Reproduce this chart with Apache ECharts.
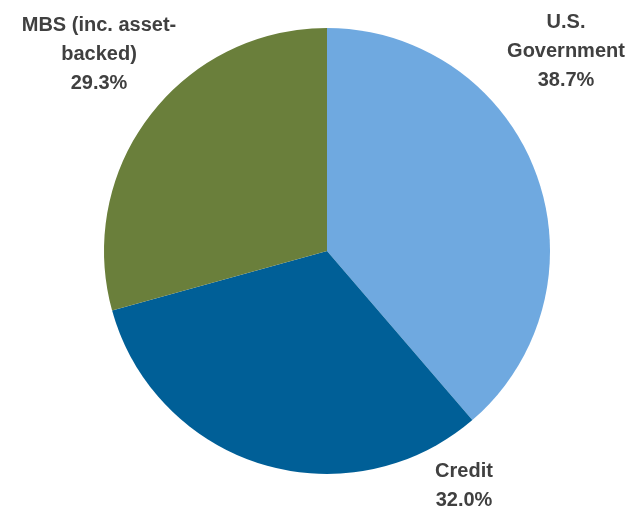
<!DOCTYPE html>
<html>
<head>
<meta charset="utf-8">
<script src="https://cdn.jsdelivr.net/npm/echarts@6/dist/echarts.min.js"></script>
<style>
html,body{margin:0;padding:0;background:#fff;}
#chart{width:634px;height:509px;}
</style>
</head>
<body>
<div id="chart"></div>
<script>
const categories = ['U.S.\nGovernment', 'Credit', 'MBS (inc. asset-\nbacked)'];
const values = [38.7, 32.0, 29.3];
const colors = ['#6FA9E0', '#005F97', '#6A7F3B'];
const labelPos = [[566, 51], [464, 486], [99, 54]];

const chart = echarts.init(document.getElementById('chart'));
chart.setOption({
  animation: false,
  series: [{
    type: 'pie',
    center: [327, 251],
    radius: 223,
    startAngle: 90,
    clockwise: true,
    data: categories.map((c, i) => ({name: c, value: values[i], itemStyle: {color: colors[i]}})),
    itemStyle: {borderWidth: 0},
    label: {
      show: true,
      position: 'outside',
      overflow: 'none',
      width: 300,
      formatter: p => p.name + '\n' + p.value.toFixed(1) + '%',
      fontFamily: 'Liberation Sans',
      fontWeight: 'bold',
      fontSize: 20,
      lineHeight: 29,
      color: '#404040',
      align: 'center'
    },
    labelLine: {show: false},
    labelLayout: function (params) {
      const p = labelPos[params.dataIndex];
      return {x: p[0], y: p[1], align: 'center', verticalAlign: 'middle'};
    },
    emphasis: {disabled: true}
  }]
});
</script>
</body>
</html>
